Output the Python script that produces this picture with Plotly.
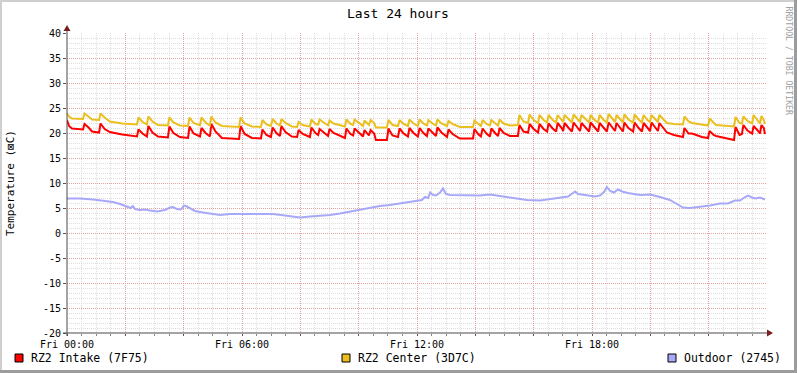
import plotly.graph_objects as go

# ---------------- data (hours since Fri 00:00, degrees C) ----------------
t_indoor = [0.00, 0.07, 0.17, 0.55, 0.60, 0.74, 0.86, 1.10, 1.15, 1.29, 1.47, 1.89,
            2.40, 2.45, 2.59, 2.74, 2.79, 2.93, 3.12, 3.46, 3.51, 3.65, 3.87,
            4.15, 4.20, 4.34, 4.56, 4.61, 4.75, 4.90, 4.95, 5.09, 5.31,
            5.90, 5.95, 6.09, 6.34, 6.65, 6.70, 6.84, 6.99, 7.05, 7.18, 7.30, 7.35, 7.49, 7.71,
            7.89, 7.94, 8.08, 8.33, 8.38, 8.52, 8.61, 8.66, 8.80, 8.95, 9.00, 9.14,
            9.53, 9.58, 9.72, 9.81, 9.86, 10.00, 10.15, 10.20, 10.31, 10.35, 10.41, 10.53, 10.59,
            10.97, 11.02, 11.16, 11.35, 11.40, 11.54, 11.69, 11.74, 11.88, 12.03, 12.09, 12.22,
            12.34, 12.39, 12.53, 12.65, 12.70, 12.84, 13.03, 13.08, 13.22, 13.47,
            13.92, 13.97, 14.11, 14.19, 14.25, 14.38, 14.50, 14.55, 14.69, 14.78, 14.83, 14.97, 15.19,
            15.46, 15.51, 15.65, 15.81, 15.86, 16.00, 16.15, 16.20, 16.34, 16.46, 16.51, 16.65,
            16.77, 16.82, 16.96, 17.01, 17.06, 17.20, 17.31, 17.37, 17.50, 17.59, 17.64, 17.78,
            17.90, 17.95, 18.09, 18.21, 18.26, 18.40, 18.51, 18.57, 18.70, 18.79, 18.84, 18.98,
            19.06, 19.11, 19.25, 19.41, 19.46, 19.60, 19.71, 19.77, 19.90, 19.99, 20.04, 20.18,
            20.26, 20.31, 20.45, 20.57, 20.81, 21.12, 21.17, 21.31, 21.43, 21.77,
            21.98, 22.03, 22.17, 22.25, 22.87, 22.92, 23.06, 23.14, 23.19, 23.33,
            23.49, 23.54, 23.68, 23.76, 23.81, 23.89, 23.93]

rz2_intake = [22.6, 21.4, 20.9, 20.7, 21.8, 21.1, 20.3, 20.1, 21.9, 20.8, 20.2, 19.7,
              19.3, 20.7, 19.9, 19.3, 21.4, 20.1, 19.3, 19.1, 21.3, 20.0, 19.2,
              19.0, 21.3, 19.9, 19.3, 21.0, 20.0, 19.3, 21.8, 20.3, 19.0,
              18.8, 21.4, 19.8, 19.0, 18.9, 20.7, 19.6, 19.2, 21.1, 20.0, 19.4, 21.4, 20.2, 19.3,
              19.2, 20.6, 19.8, 19.2, 21.1, 20.0, 19.6, 20.8, 20.1, 19.4, 20.8, 20.0,
              19.0, 20.9, 19.8, 19.5, 20.9, 20.1, 19.3, 20.6, 19.8, 19.5, 20.6, 19.9, 18.6,
              18.6, 20.9, 19.5, 19.2, 20.9, 19.9, 19.3, 21.0, 20.0, 19.3, 21.0, 20.0,
              19.4, 20.9, 20.0, 19.4, 21.1, 20.1, 19.2, 20.7, 19.8, 18.9,
              18.9, 20.8, 19.7, 19.3, 20.9, 19.9, 19.3, 20.9, 19.9, 19.4, 21.0, 20.0, 19.4,
              19.4, 21.6, 20.3, 20.1, 21.8, 20.8, 20.1, 21.8, 20.8, 20.3, 21.9, 20.9,
              20.3, 22.0, 21.0, 20.4, 22.0, 21.0, 20.3, 22.1, 21.0, 20.4, 22.0, 21.0,
              20.3, 22.1, 21.0, 20.3, 22.0, 21.0, 20.3, 22.1, 21.0, 20.4, 22.0, 21.0,
              20.3, 22.1, 21.0, 20.3, 22.1, 21.0, 20.3, 22.0, 21.0, 20.4, 22.1, 21.1,
              20.4, 22.0, 21.0, 20.1, 19.6, 19.2, 21.0, 19.9, 19.9, 19.2,
              19.0, 20.4, 19.6, 19.4, 18.6, 21.2, 19.6, 19.8, 21.6, 20.5,
              19.9, 21.4, 20.5, 19.9, 21.6, 21.0, 19.8]

rz2_center = [23.9, 23.3, 22.9, 22.8, 23.9, 23.2, 22.7, 22.6, 23.9, 23.1, 22.3, 21.9,
              21.7, 23.1, 22.2, 21.7, 23.3, 22.3, 21.6, 21.5, 23.1, 22.1, 21.5,
              21.4, 23.1, 22.0, 21.5, 23.1, 22.1, 21.5, 23.3, 22.1, 21.4,
              21.2, 23.1, 21.9, 21.3, 21.2, 22.6, 21.7, 21.4, 22.8, 21.9, 21.5, 22.8, 22.0, 21.3,
              21.2, 22.2, 21.6, 21.3, 22.7, 21.8, 21.7, 22.7, 22.1, 21.5, 22.5, 21.9,
              21.3, 22.7, 21.8, 21.6, 22.7, 22.0, 21.4, 22.5, 21.8, 21.6, 22.6, 22.0, 21.1,
              21.1, 22.6, 21.6, 21.4, 22.6, 21.8, 21.4, 22.7, 21.9, 21.4, 22.7, 21.9,
              21.5, 22.6, 21.9, 21.5, 22.7, 21.9, 21.4, 22.4, 21.8, 21.2,
              21.2, 22.5, 21.7, 21.4, 22.6, 21.8, 21.5, 22.6, 21.9, 21.5, 22.7, 21.9, 21.5,
              21.6, 23.6, 22.3, 22.0, 23.7, 22.6, 22.0, 23.6, 22.6, 22.1, 23.6, 22.6,
              22.1, 23.6, 22.6, 22.2, 23.6, 22.7, 22.1, 23.7, 22.7, 22.2, 23.6, 22.7,
              22.1, 23.6, 22.6, 22.1, 23.6, 22.6, 22.1, 23.8, 22.7, 22.2, 23.6, 22.7,
              22.1, 23.7, 22.7, 22.1, 23.7, 22.7, 22.1, 23.6, 22.6, 22.2, 23.6, 22.7,
              22.2, 23.6, 22.7, 22.0, 21.8, 21.7, 23.3, 22.3, 22.0, 21.6,
              21.5, 22.9, 22.0, 21.6, 21.3, 23.2, 22.0, 21.9, 23.3, 22.4,
              21.9, 23.6, 22.5, 21.9, 23.4, 22.6, 21.8]

t_outdoor = [0.00, 0.45, 0.89, 1.23, 1.58, 1.82, 2.06, 2.19, 2.26, 2.33, 2.50, 2.67, 2.84,
             3.09, 3.36, 3.53, 3.63, 3.77, 3.91, 4.01, 4.11, 4.22, 4.39, 4.66, 4.97, 5.25,
             5.59, 5.93, 6.27, 6.62, 7.06, 7.47, 7.82, 7.99, 8.33, 8.67, 9.02, 9.36, 9.70,
             10.05, 10.39, 10.73, 11.07, 11.42, 11.76, 12.00, 12.17, 12.27, 12.38, 12.45,
             12.55, 12.65, 12.79, 12.89, 12.99, 13.13, 13.47, 13.82, 14.16, 14.50, 14.85,
             15.19, 15.43, 15.77, 16.22, 16.66, 16.90, 17.18, 17.42, 17.52, 17.76, 18.10,
             18.27, 18.41, 18.51, 18.62, 18.75, 18.89, 19.03, 19.23, 19.65, 19.99, 20.33,
             20.67, 20.91, 21.12, 21.36, 21.70, 22.05, 22.39, 22.66, 22.90, 23.07, 23.25,
             23.35, 23.49, 23.59, 23.76, 23.93]

outdoor = [6.9, 6.9, 6.7, 6.5, 6.2, 5.8, 5.3, 5.0, 5.4, 4.8, 4.6, 4.7, 4.5,
           4.3, 4.6, 5.1, 5.2, 4.8, 4.7, 5.5, 5.3, 4.9, 4.4, 4.1, 3.8, 3.6,
           3.8, 3.8, 3.7, 3.8, 3.8, 3.5, 3.2, 3.1, 3.3, 3.4, 3.6, 3.9, 4.3,
           4.6, 5.0, 5.4, 5.6, 5.9, 6.1, 6.4, 6.6, 7.2, 7.0, 8.1,
           7.6, 7.5, 8.1, 8.9, 7.8, 7.6, 7.6, 7.6, 7.5, 7.7, 7.4,
           7.1, 6.9, 6.6, 6.5, 6.9, 7.0, 7.3, 8.3, 7.8, 7.6, 7.3,
           7.5, 8.2, 9.2, 8.4, 8.1, 8.7, 8.3, 8.0, 7.6, 7.7, 7.2,
           6.6, 5.8, 5.1, 5.0, 5.2, 5.5, 5.9, 5.9, 6.5, 6.5, 7.2,
           7.5, 7.1, 6.9, 7.1, 6.7]

assert len(t_indoor) == len(rz2_intake) == len(rz2_center)
assert len(t_outdoor) == len(outdoor)

x_tick_hours = [0, 2, 4, 6, 8, 10, 12, 14, 16, 18, 20, 22]
x_tick_labels = ["Fri 00:00", "", "", "Fri 06:00", "", "", "Fri 12:00", "", "", "Fri 18:00", "", ""]
y_tick_values = [-20, -15, -10, -5, 0, 5, 10, 15, 20, 25, 30, 35, 40]
y_tick_labels = [str(v) for v in y_tick_values]

legend_labels = ["RZ2 Intake (7F75)", "RZ2 Center (3D7C)", "Outdoor (2745)"]
series_colors = ["#FF0000", "#EABF1F", "#A8A8F8"]

# ---------------- layout geometry (pixels) ----------------
W, H = 797, 373
PL, PR, PT, PB = 67, 767, 33, 333


def fx(p):
    return (p - PL) / (PR - PL)


def fy(p):
    return (PB - p) / (PB - PT)


FONT = "DejaVu Sans Mono"
MAJ = "#E3A3A3"
MIN = "#DEDEDE"

fig = go.Figure()
series = [(t_indoor, rz2_intake), (t_indoor, rz2_center), (t_outdoor, outdoor)]
for (t, v), c, name in zip(series, series_colors, legend_labels):
    fig.add_trace(go.Scatter(x=t, y=v, mode="lines", name=name,
                             line=dict(color=c, width=2), showlegend=False,
                             hoverinfo="skip"))

fig.update_layout(
    width=W, height=H,
    margin=dict(l=PL, r=W - PR, t=PT, b=H - PB, pad=0),
    paper_bgcolor="white", plot_bgcolor="white",
    font=dict(family=FONT, size=10, color="black"),
    showlegend=False,
    xaxis=dict(range=[0, 24], tickmode="array", tickvals=x_tick_hours, ticktext=x_tick_labels,
               showgrid=True, gridcolor=MAJ, griddash="1px,1px", gridwidth=1,
               ticks="outside", ticklen=2, tickcolor="#555555", showline=False, zeroline=False,
               tickfont=dict(family=FONT, size=10, color="black"),
               minor=dict(tick0=0, dtick=0.5, showgrid=True, gridcolor=MIN, griddash="1px,1px",
                          ticks="outside", ticklen=2, tickcolor="#888888"),
               fixedrange=True),
    yaxis=dict(range=[-20, 40], tickmode="array", tickvals=y_tick_values, ticktext=y_tick_labels,
               showgrid=True, gridcolor=MAJ, griddash="1px,1px", gridwidth=1,
               ticks="outside", ticklen=3, tickcolor="#555555", showline=False, zeroline=False,
               tickfont=dict(family=FONT, size=10, color="black"),
               minor=dict(tick0=0, dtick=1, showgrid=True, gridcolor=MIN, griddash="1px,1px",
                          ticks=""),
               fixedrange=True),
)

shapes = []
AX = "#4A4A4A"
ARW = "#7A1E1E"
shapes.append(dict(type="line", xref="paper", yref="paper", x0=fx(PL), x1=fx(PL),
                   y0=fy(PB + 3), y1=fy(PT - 5), line=dict(color=AX, width=1)))
shapes.append(dict(type="line", xref="paper", yref="paper", x0=fx(PL - 4), x1=fx(PR + 1),
                   y0=fy(PB), y1=fy(PB), line=dict(color=AX, width=1)))
shapes.append(dict(type="path", xref="paper", yref="paper",
                   path=f"M {fx(PL)} {fy(PT - 8)} L {fx(PL - 3.5)} {fy(PT - 2)} L {fx(PL + 3.5)} {fy(PT - 2)} Z",
                   fillcolor=ARW, line=dict(color=ARW, width=0)))
shapes.append(dict(type="path", xref="paper", yref="paper",
                   path=f"M {fx(PR + 6)} {fy(PB)} L {fx(PR)} {fy(PB - 3.5)} L {fx(PR)} {fy(PB + 3.5)} Z",
                   fillcolor=ARW, line=dict(color=ARW, width=0)))
LIGHT, DARK = "#CFCFCF", "#9C9C9C"
shapes.append(dict(type="rect", xref="paper", yref="paper", x0=fx(0), x1=fx(2), y0=fy(H), y1=fy(0),
                   fillcolor=LIGHT, line=dict(width=0)))
shapes.append(dict(type="rect", xref="paper", yref="paper", x0=fx(0), x1=fx(W), y0=fy(2), y1=fy(0),
                   fillcolor=LIGHT, line=dict(width=0)))
shapes.append(dict(type="rect", xref="paper", yref="paper", x0=fx(W - 3), x1=fx(W), y0=fy(H), y1=fy(0),
                   fillcolor=DARK, line=dict(width=0)))
shapes.append(dict(type="rect", xref="paper", yref="paper", x0=fx(0), x1=fx(W), y0=fy(H), y1=fy(H - 3),
                   fillcolor=DARK, line=dict(width=0)))

legend_box_x = [15, 342, 668]
annotations = []
for lx, lab, c in zip(legend_box_x, legend_labels, series_colors):
    shapes.append(dict(type="rect", xref="paper", yref="paper", x0=fx(lx), x1=fx(lx + 8),
                       y0=fy(362), y1=fy(354), fillcolor=c, line=dict(color="black", width=1)))
    annotations.append(dict(xref="paper", yref="paper", x=fx(lx + 14), y=fy(358), text=lab,
                            showarrow=False, xanchor="left", yanchor="middle",
                            font=dict(family=FONT, size=11.5, color="black")))

annotations.append(dict(xref="paper", yref="paper", x=fx(398), y=fy(13), text="Last 24 hours",
                        showarrow=False, xanchor="center", yanchor="middle",
                        font=dict(family=FONT, size=13, color="black")))
annotations.append(dict(xref="paper", yref="paper", x=fx(10), y=fy(183), text="Temperature (⊠C)",
                        showarrow=False, xanchor="center", yanchor="middle", textangle=-90,
                        font=dict(family=FONT, size=11, color="black")))
annotations.append(dict(xref="paper", yref="paper", x=fx(788.5), y=fy(61), text="RRDTOOL / TOBI OETIKER",
                        showarrow=False, xanchor="center", yanchor="middle", textangle=90,
                        font=dict(family=FONT, size=8.2, color="#A0A0A0")))

fig.update_layout(shapes=shapes, annotations=annotations)
fig.write_html("out.html", config={"displayModeBar": False, "staticPlot": True},
               post_script="document.body.style.margin='0';document.body.style.padding='0';")
